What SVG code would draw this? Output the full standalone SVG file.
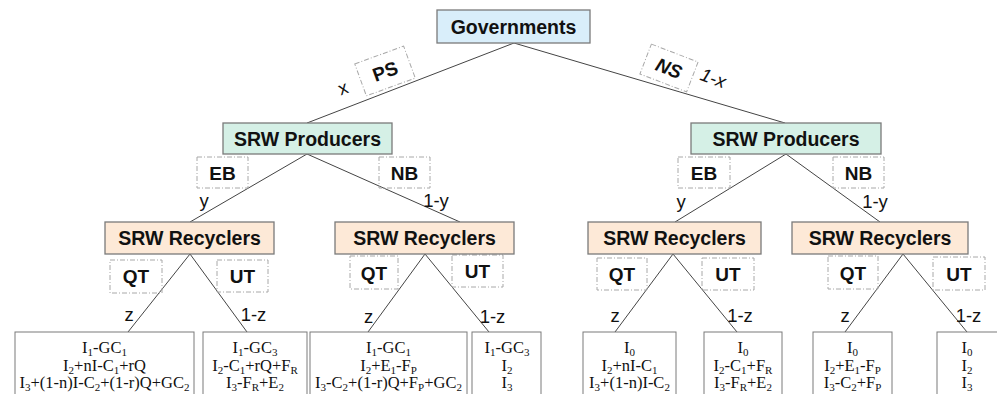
<svg xmlns="http://www.w3.org/2000/svg" width="997" height="394" viewBox="0 0 997 394">
<style>
.node{stroke:#7a7a7a;stroke-width:1.3}
.gov{fill:#d9eefa}
.prod{fill:#d5f0e6}
.rec{fill:#fde9d7}
.nt{font-family:"Liberation Sans",Arial,sans-serif;font-weight:bold;font-size:19.5px;fill:#111;text-anchor:middle}
.dash{fill:none;stroke:#a8a8a8;stroke-width:1;stroke-dasharray:5 2 1 2}
.st{font-family:"Liberation Sans",Arial,sans-serif;font-weight:bold;font-size:19px;fill:#111;text-anchor:middle}
.lb{font-family:"Liberation Sans",Arial,sans-serif;font-size:18.5px;fill:#111;text-anchor:middle}
.leaf{fill:#fff;stroke:#7a7a7a;stroke-width:1}
.lt{font-family:"Liberation Serif","Times New Roman",serif;font-size:16.5px;fill:#111;text-anchor:middle}
.sb{font-size:11px}
.conn line{stroke:#444;stroke-width:1}
</style>

<g id="connectors" class="conn">
<line x1="514" y1="43" x2="307" y2="123"/>
<line x1="514" y1="43" x2="785" y2="123"/>
<line x1="307" y1="154" x2="190" y2="222"/>
<line x1="307" y1="154" x2="460" y2="222"/>
<line x1="786" y1="154" x2="675" y2="222"/>
<line x1="786" y1="154" x2="880" y2="222"/>
<line x1="190" y1="254" x2="128" y2="332"/>
<line x1="190" y1="254" x2="247" y2="332"/>
<line x1="425" y1="254" x2="368" y2="332"/>
<line x1="425" y1="254" x2="489" y2="332"/>
<line x1="673" y1="254" x2="615" y2="332"/>
<line x1="673" y1="254" x2="737" y2="332"/>
<line x1="903" y1="254" x2="845" y2="332"/>
<line x1="903" y1="254" x2="967" y2="332"/>
</g>

<g id="governments">
<rect class="node gov" x="437" y="10" width="153" height="33"/>
<text class="nt" x="513.5" y="33.5">Governments</text>
</g>

<g id="ps">
<g transform="translate(385,71) rotate(-20)">
<rect class="dash" x="-26" y="-17" width="52" height="34"/>
<text class="st" x="0" y="7">PS</text>
</g>
<text class="lb" transform="translate(345,94) rotate(-20)">x</text>
</g>

<g id="ns">
<g transform="translate(669,68) rotate(21)">
<rect class="dash" x="-25" y="-16" width="50" height="32"/>
<text class="st" x="0" y="7" font-style="italic">NS</text>
</g>
<text class="lb" font-style="italic" transform="translate(711,84) rotate(20)">1-x</text>
</g>

<g id="producers-left">
<rect class="node prod" x="223" y="123" width="169" height="31"/>
<text class="nt" x="307.5" y="145.5">SRW Producers</text>
</g>
<g id="producers-right">
<rect class="node prod" x="691" y="123" width="190" height="31"/>
<text class="nt" x="786" y="145.5">SRW Producers</text>
</g>

<g id="strategy-labels">
<rect class="dash" x="197" y="157" width="51" height="31"/><text class="st" x="222.5" y="179.5">EB</text>
<rect class="dash" x="379" y="157" width="51" height="31"/><text class="st" x="404.5" y="179.5">NB</text>
<rect class="dash" x="678" y="157" width="52" height="31"/><text class="st" x="704" y="179.5">EB</text>
<rect class="dash" x="833" y="157" width="51" height="31"/><text class="st" x="858.5" y="179.5">NB</text>
<text class="lb" x="204" y="207">y</text>
<text class="lb" x="436" y="207">1-y</text>
<text class="lb" x="681" y="208">y</text>
<text class="lb" x="875" y="208">1-y</text>

<rect class="dash" x="110" y="260" width="52" height="33"/><text class="st" x="136" y="283">QT</text>
<rect class="dash" x="217" y="260" width="51" height="32"/><text class="st" x="242.5" y="283">UT</text>
<rect class="dash" x="350" y="256" width="48" height="33"/><text class="st" x="374" y="279.5">QT</text>
<rect class="dash" x="452" y="255" width="51" height="32"/><text class="st" x="477.5" y="278">UT</text>
<rect class="dash" x="597" y="258" width="50" height="32"/><text class="st" x="622" y="281">QT</text>
<rect class="dash" x="702" y="258" width="52" height="32"/><text class="st" x="728" y="281">UT</text>
<rect class="dash" x="828" y="256" width="50" height="33"/><text class="st" x="853" y="279.5">QT</text>
<rect class="dash" x="933" y="257" width="52" height="33"/><text class="st" x="959" y="280.5">UT</text>

<text class="lb" x="129" y="321">z</text>
<text class="lb" x="253.5" y="321">1-z</text>
<text class="lb" x="368.5" y="323">z</text>
<text class="lb" x="492.5" y="323">1-z</text>
<text class="lb" x="615" y="322">z</text>
<text class="lb" x="740" y="322">1-z</text>
<text class="lb" x="845" y="322">z</text>
<text class="lb" x="968.5" y="322">1-z</text>
</g>

<g id="recyclers-1">
<rect class="node rec" x="105" y="222" width="169" height="32"/>
<text class="nt" x="189.5" y="245">SRW Recyclers</text>
</g>
<g id="recyclers-2">
<rect class="node rec" x="335" y="222" width="179" height="32"/>
<text class="nt" x="424.5" y="245">SRW Recyclers</text>
</g>
<g id="recyclers-3">
<rect class="node rec" x="588" y="222" width="173" height="32"/>
<text class="nt" x="674.5" y="245">SRW Recyclers</text>
</g>
<g id="recyclers-4">
<rect class="node rec" x="792" y="222" width="176" height="32"/>
<text class="nt" x="880" y="245">SRW Recyclers</text>
</g>

<g id="leaf-1">
<rect class="leaf" x="15" y="332" width="179" height="80"/>
<text class="lt" x="104.5" y="353">I<tspan class="sb" dy="3">1</tspan><tspan dy="-3">-GC</tspan><tspan class="sb" dy="3">1</tspan></text>
<text class="lt" x="104.5" y="370.5">I<tspan class="sb" dy="3">2</tspan><tspan dy="-3">+nI-C</tspan><tspan class="sb" dy="3">1</tspan><tspan dy="-3">+rQ</tspan></text>
<text class="lt" x="104.5" y="388">I<tspan class="sb" dy="3">3</tspan><tspan dy="-3">+(1-n)I-C</tspan><tspan class="sb" dy="3">2</tspan><tspan dy="-3">+(1-r)Q+GC</tspan><tspan class="sb" dy="3">2</tspan></text>
</g>
<g id="leaf-2">
<rect class="leaf" x="203" y="332" width="104" height="80"/>
<text class="lt" x="255" y="353">I<tspan class="sb" dy="3">1</tspan><tspan dy="-3">-GC</tspan><tspan class="sb" dy="3">3</tspan></text>
<text class="lt" x="255" y="370.5">I<tspan class="sb" dy="3">2</tspan><tspan dy="-3">-C</tspan><tspan class="sb" dy="3">1</tspan><tspan dy="-3">+rQ+F</tspan><tspan class="sb" dy="3">R</tspan></text>
<text class="lt" x="255" y="388">I<tspan class="sb" dy="3">3</tspan><tspan dy="-3">-F</tspan><tspan class="sb" dy="3">R</tspan><tspan dy="-3">+E</tspan><tspan class="sb" dy="3">2</tspan></text>
</g>
<g id="leaf-3">
<rect class="leaf" x="310" y="332" width="157" height="80"/>
<text class="lt" x="388.5" y="353">I<tspan class="sb" dy="3">1</tspan><tspan dy="-3">-GC</tspan><tspan class="sb" dy="3">1</tspan></text>
<text class="lt" x="388.5" y="370.5">I<tspan class="sb" dy="3">2</tspan><tspan dy="-3">+E</tspan><tspan class="sb" dy="3">1</tspan><tspan dy="-3">-F</tspan><tspan class="sb" dy="3">P</tspan></text>
<text class="lt" x="388.5" y="388">I<tspan class="sb" dy="3">3</tspan><tspan dy="-3">-C</tspan><tspan class="sb" dy="3">2</tspan><tspan dy="-3">+(1-r)Q+F</tspan><tspan class="sb" dy="3">P</tspan><tspan dy="-3">+GC</tspan><tspan class="sb" dy="3">2</tspan></text>
</g>
<g id="leaf-4">
<rect class="leaf" x="472" y="332" width="69" height="80"/>
<text class="lt" x="507" y="353">I<tspan class="sb" dy="3">1</tspan><tspan dy="-3">-GC</tspan><tspan class="sb" dy="3">3</tspan></text>
<text class="lt" x="507" y="370.5">I<tspan class="sb" dy="3">2</tspan></text>
<text class="lt" x="507" y="388">I<tspan class="sb" dy="3">3</tspan></text>
</g>
<g id="leaf-5">
<rect class="leaf" x="583" y="332" width="93" height="80"/>
<text class="lt" x="629.5" y="353">I<tspan class="sb" dy="3">0</tspan></text>
<text class="lt" x="629.5" y="370.5">I<tspan class="sb" dy="3">2</tspan><tspan dy="-3">+nI-C</tspan><tspan class="sb" dy="3">1</tspan></text>
<text class="lt" x="629.5" y="388">I<tspan class="sb" dy="3">3</tspan><tspan dy="-3">+(1-n)I-C</tspan><tspan class="sb" dy="3">2</tspan></text>
</g>
<g id="leaf-6">
<rect class="leaf" x="704" y="332" width="78" height="80"/>
<text class="lt" x="743" y="353">I<tspan class="sb" dy="3">0</tspan></text>
<text class="lt" x="743" y="370.5">I<tspan class="sb" dy="3">2</tspan><tspan dy="-3">-C</tspan><tspan class="sb" dy="3">1</tspan><tspan dy="-3">+F</tspan><tspan class="sb" dy="3">R</tspan></text>
<text class="lt" x="743" y="388">I<tspan class="sb" dy="3">3</tspan><tspan dy="-3">-F</tspan><tspan class="sb" dy="3">R</tspan><tspan dy="-3">+E</tspan><tspan class="sb" dy="3">2</tspan></text>
</g>
<g id="leaf-7">
<rect class="leaf" x="813" y="332" width="79" height="80"/>
<text class="lt" x="852.5" y="353">I<tspan class="sb" dy="3">0</tspan></text>
<text class="lt" x="852.5" y="370.5">I<tspan class="sb" dy="3">2</tspan><tspan dy="-3">+E</tspan><tspan class="sb" dy="3">1</tspan><tspan dy="-3">-F</tspan><tspan class="sb" dy="3">P</tspan></text>
<text class="lt" x="852.5" y="388">I<tspan class="sb" dy="3">3</tspan><tspan dy="-3">-C</tspan><tspan class="sb" dy="3">2</tspan><tspan dy="-3">+F</tspan><tspan class="sb" dy="3">P</tspan></text>
</g>
<g id="leaf-8">
<rect class="leaf" x="937" y="332" width="70" height="80"/>
<text class="lt" x="967" y="353">I<tspan class="sb" dy="3">0</tspan></text>
<text class="lt" x="967" y="370.5">I<tspan class="sb" dy="3">2</tspan></text>
<text class="lt" x="967" y="388">I<tspan class="sb" dy="3">3</tspan></text>
</g>
</svg>
